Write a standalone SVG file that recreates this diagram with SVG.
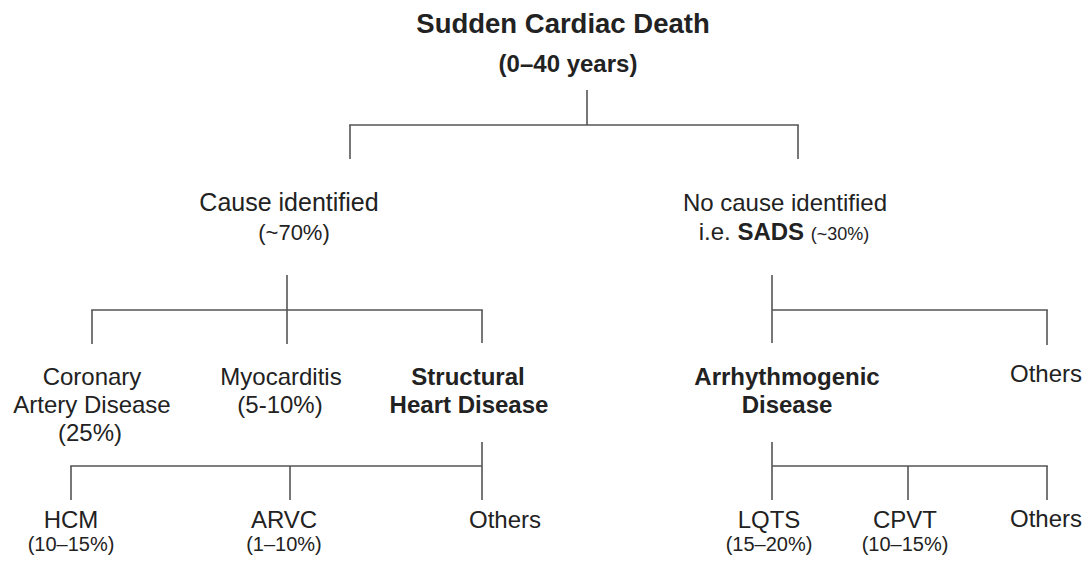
<svg xmlns="http://www.w3.org/2000/svg" width="1090" height="561" viewBox="0 0 1090 561">
<style>
text{font-family:"Liberation Sans",Arial,sans-serif;fill:#222;text-anchor:middle;font-size:24px}
.b{font-weight:bold}
.m{font-size:25px}
.s{font-size:20px}
.p{font-size:22px}
.xs{font-size:18px}
.t{font-size:27.5px;font-weight:bold}
.c line{stroke:#555;stroke-width:1.6}
</style>
<rect width="1090" height="561" fill="#fff"/>
<g class="c" id="connectors">
<line x1="587" y1="90" x2="587" y2="125"/>
<line x1="349.2" y1="125" x2="798.8" y2="125"/>
<line x1="350" y1="125" x2="350" y2="159"/>
<line x1="798" y1="125" x2="798" y2="159"/>
<line x1="287" y1="275" x2="287" y2="344"/>
<line x1="91.2" y1="310" x2="482.8" y2="310"/>
<line x1="92" y1="310" x2="92" y2="344"/>
<line x1="482" y1="310" x2="482" y2="343"/>
<line x1="772" y1="275" x2="772" y2="343"/>
<line x1="772" y1="310" x2="1047.8" y2="310"/>
<line x1="1047" y1="310" x2="1047" y2="345"/>
<line x1="482" y1="442" x2="482" y2="500"/>
<line x1="70.2" y1="466" x2="482" y2="466"/>
<line x1="71" y1="466" x2="71" y2="500"/>
<line x1="290" y1="466" x2="290" y2="500"/>
<line x1="772" y1="442" x2="772" y2="500"/>
<line x1="772" y1="466" x2="1047.8" y2="466"/>
<line x1="908" y1="466" x2="908" y2="500"/>
<line x1="1047" y1="466" x2="1047" y2="500"/>
</g>
<g id="root">
<text class="t" x="563" y="33">Sudden Cardiac Death</text>
<text class="b" x="568" y="72">(0–40 years)</text>
</g>
<g id="cause">
<text class="m" x="289" y="211">Cause identified</text>
<text class="p" x="294" y="240">(~70%)</text>
</g>
<g id="nocause">
<text x="785" y="211">No cause identified</text>
<text x="784" y="240">i.e. <tspan class="b">SADS</tspan> <tspan class="xs">(~30%)</tspan></text>
</g>
<g id="cad">
<text x="92" y="385">Coronary</text>
<text x="92" y="413">Artery Disease</text>
<text x="90" y="441">(25%)</text>
</g>
<g id="myo">
<text x="281" y="385">Myocarditis</text>
<text x="280" y="413">(5-10%)</text>
</g>
<g id="shd">
<text class="b" x="468" y="385">Structural</text>
<text class="b" x="469" y="413">Heart Disease</text>
</g>
<g id="arr">
<text class="b" x="787" y="385">Arrhythmogenic</text>
<text class="b" x="787" y="413">Disease</text>
</g>
<g id="others1">
<text x="1046" y="382">Others</text>
</g>
<g id="hcm">
<text x="71" y="528">HCM</text>
<text class="s" x="71" y="551">(10–15%)</text>
</g>
<g id="arvc">
<text x="284" y="528">ARVC</text>
<text class="s" x="284" y="551">(1–10%)</text>
</g>
<g id="others2">
<text x="505" y="528">Others</text>
</g>
<g id="lqts">
<text x="769" y="528">LQTS</text>
<text class="s" x="769" y="551">(15–20%)</text>
</g>
<g id="cpvt">
<text x="905" y="528">CPVT</text>
<text class="s" x="905" y="551">(10–15%)</text>
</g>
<g id="others3">
<text x="1046" y="527">Others</text>
</g>
</svg>
